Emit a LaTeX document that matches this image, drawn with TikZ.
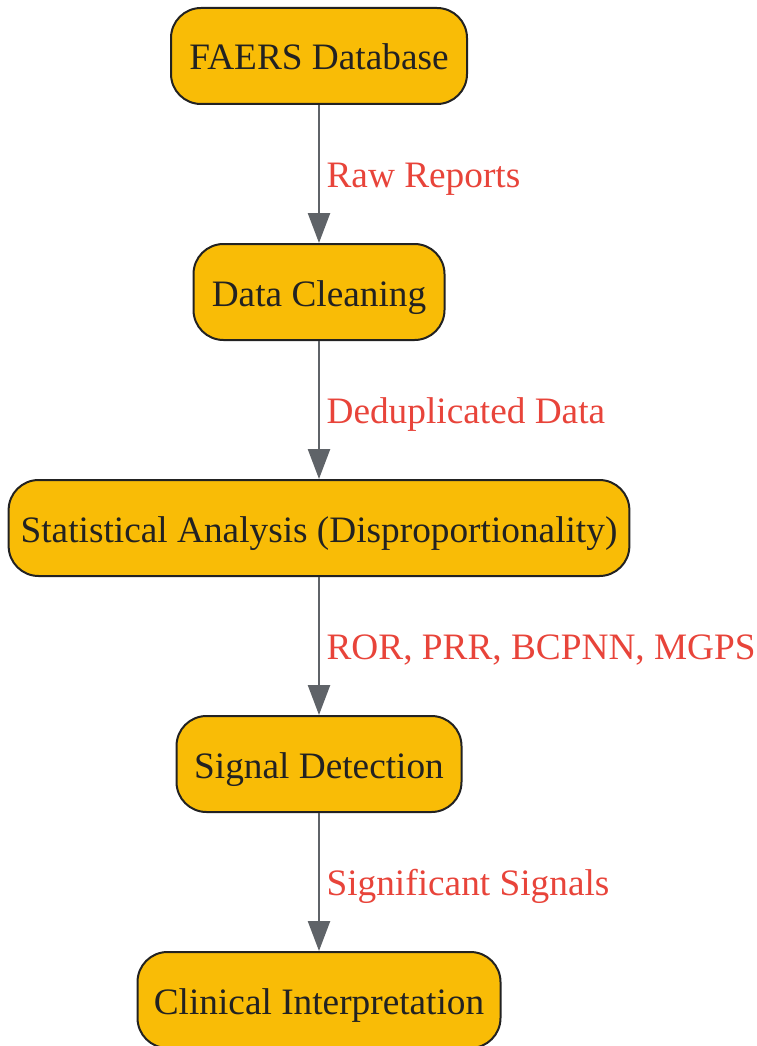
\documentclass[tikz,border=0pt]{standalone}
\usepackage{fontspec}
\setmainfont{Liberation Serif}
\usetikzlibrary{positioning}
\usetikzlibrary{arrows.meta}

\definecolor{boxfill}{HTML}{F9BC06}
\definecolor{boxline}{HTML}{222222}
\definecolor{edgegray}{HTML}{5F6368}
\definecolor{labelred}{HTML}{E8443A}

\begin{document}
\begin{tikzpicture}[x=1pt, y=-1pt, node distance=138pt,
	>={Triangle[length=30pt, width=22pt]}, font=\fontsize{37.3}{44}\selectfont]
	\tikzstyle{step box}=[draw=boxline, fill=boxfill, line width=2pt, rounded corners=30pt, minimum height=96pt, inner xsep=12pt, text height=28pt, text depth=0pt, text=boxline]
	\tikzstyle{flow}=[->, color=edgegray, line width=2.5pt]
	\tikzstyle{annot}=[text=labelred, anchor=west, xshift=3pt, text height=26pt, text depth=0pt, inner ysep=0pt]

	\useasboundingbox (0,0) rectangle (757,1046);

	\node[step box, minimum width=296pt] (faers) at (319,56) {FAERS Database};
	\node[step box, minimum width=251pt, below=of faers] (clean) {Data Cleaning};
	\node[step box, minimum width=620pt, below=of clean] (stats) {Statistical Analysis (Disproportionality)};
	\node[step box, minimum width=285pt, below=of stats] (detect) {Signal Detection};
	\node[step box, minimum width=363pt, below=of detect] (interp) {Clinical Interpretation};

	\draw[flow] (faers) -- node[annot] {Raw Reports} (clean);
	\draw[flow] (clean) -- node[annot] {Deduplicated Data} (stats);
	\draw[flow] (stats) -- node[annot] {ROR, PRR, BCPNN, MGPS} (detect);
	\draw[flow] (detect) -- node[annot] {Significant Signals} (interp);
\end{tikzpicture}
\end{document}
